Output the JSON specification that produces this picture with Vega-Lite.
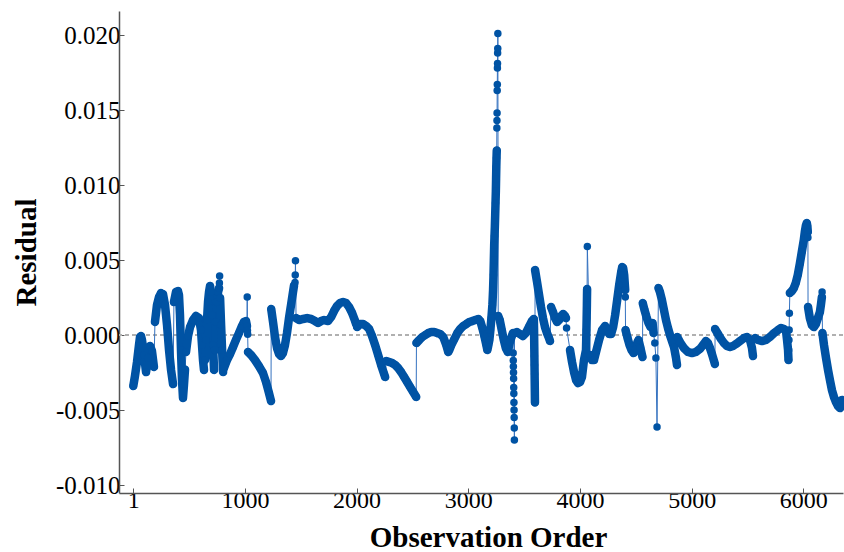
{
  "$schema": "https://vega.github.io/schema/vega-lite/v6.json",
  "width": 724,
  "height": 482,
  "autosize": {"type": "none"},
  "padding": {"left": 119, "top": 11, "right": 1, "bottom": 59},
  "background": "white",
  "config": {"view": {"stroke": null}},
  "data": {"values": [
    {"i":1,"r":-0.00340,"s":"A"},{"i":16,"r":-0.00273,"s":"A"},{"i":34,"r":-0.00180,"s":"A"},{"i":52,"r":-0.00067,"s":"A"},{"i":61,"r":-0.00013,"s":"A"},{"i":70,"r":-0.00007,"s":"A"},{"i":79,"r":-0.00033,"s":"A"},{"i":97,"r":-0.00133,"s":"A"},{"i":115,"r":-0.00247,"s":"A"},{"i":133,"r":-0.00153,"s":"A"},{"i":151,"r":-0.00073,"s":"A"},{"i":168,"r":-0.00107,"s":"A"},{"i":186,"r":-0.00213,"s":"A"},
    {"i":195,"r":0.00087,"s":"B"},{"i":213,"r":0.00200,"s":"B"},{"i":231,"r":0.00253,"s":"B"},{"i":249,"r":0.00280,"s":"B"},{"i":258,"r":0.00250,"s":"B"},{"i":267,"r":0.00273,"s":"B"},{"i":285,"r":0.00200,"s":"B"},{"i":303,"r":0.00067,"s":"B"},{"i":321,"r":-0.00100,"s":"B"},{"i":339,"r":-0.00233,"s":"B"},{"i":357,"r":-0.00327,"s":"B"},
    {"i":365,"r":0.00220,"s":"C"},{"i":383,"r":0.00287,"s":"C"},{"i":401,"r":0.00293,"s":"C"},{"i":410,"r":0.00267,"s":"C"},{"i":419,"r":0.00133,"s":"C"},{"i":428,"r":-0.00100,"s":"C"},{"i":437,"r":-0.00300,"s":"C"},{"i":446,"r":-0.00420,"s":"C"},{"i":455,"r":-0.00330,"s":"C"},{"i":464,"r":-0.00230,"s":"C"},
    {"i":473,"r":-0.00113,"s":"D"},{"i":491,"r":-0.00007,"s":"D"},{"i":509,"r":0.00053,"s":"D"},{"i":536,"r":0.00100,"s":"D"},{"i":562,"r":0.00127,"s":"D"},{"i":589,"r":0.00113,"s":"D"},{"i":607,"r":0.00033,"s":"D"},{"i":616,"r":-0.00067,"s":"D"},{"i":625,"r":-0.00167,"s":"D"},{"i":634,"r":-0.00233,"s":"D"},
    {"i":643,"r":-0.00167,"s":"E"},{"i":652,"r":-0.00033,"s":"E"},{"i":661,"r":0.00100,"s":"E"},{"i":670,"r":0.00220,"s":"E"},{"i":679,"r":0.00287,"s":"E"},{"i":688,"r":0.00327,"s":"E"},{"i":697,"r":0.00287,"s":"E"},{"i":706,"r":0.00133,"s":"E"},{"i":715,"r":-0.00067,"s":"E"},{"i":724,"r":-0.00233,"s":"E"},
    {"i":733,"r":-0.00100,"s":"F"},{"i":742,"r":0.00087,"s":"F"},{"i":751,"r":0.00220,"s":"F"},{"i":760,"r":0.00287,"s":"F"},{"i":769,"r":0.00313,"s":"F"},
    {"i":772,"r":0.00347},{"i":774,"r":0.00393},
    {"i":778,"r":0.00247,"s":"F2"},{"i":787,"r":0.00067,"s":"F2"},{"i":796,"r":-0.00100,"s":"F2"},{"i":805,"r":-0.00247,"s":"F2"},
    {"i":813,"r":-0.00220,"s":"G"},{"i":840,"r":-0.00167,"s":"G"},{"i":867,"r":-0.00127,"s":"G"},{"i":894,"r":-0.00080,"s":"G"},{"i":920,"r":-0.00033,"s":"G"},{"i":947,"r":0.00013,"s":"G"},{"i":974,"r":0.00060,"s":"G"},{"i":992,"r":0.00087,"s":"G"},{"i":1010,"r":0.00093,"s":"G"},{"i":1019,"r":0.00060,"s":"G"},
    {"i":1021,"r":0.00253},{"i":1023,"r":0.00030},{"i":1025,"r":0.00005},
    {"i":1028,"r":-0.00113,"s":"H"},{"i":1055,"r":-0.00133,"s":"H"},{"i":1091,"r":-0.00167,"s":"H"},{"i":1126,"r":-0.00207,"s":"H"},{"i":1162,"r":-0.00253,"s":"H"},{"i":1189,"r":-0.00313,"s":"H"},{"i":1216,"r":-0.00387,"s":"H"},{"i":1234,"r":-0.00440,"s":"H"},
    {"i":1236,"r":0.00173,"s":"I"},{"i":1252,"r":0.00087,"s":"I"},{"i":1270,"r":-0.00013,"s":"I"},{"i":1288,"r":-0.00087,"s":"I"},{"i":1306,"r":-0.00127,"s":"I"},{"i":1323,"r":-0.00140,"s":"I"},{"i":1341,"r":-0.00120,"s":"I"},{"i":1359,"r":-0.00067,"s":"I"},{"i":1377,"r":0.00013,"s":"I"},{"i":1395,"r":0.00113,"s":"I"},{"i":1413,"r":0.00200,"s":"I"},{"i":1431,"r":0.00287,"s":"I"},{"i":1440,"r":0.00330,"s":"I"},
    {"i":1449,"r":0.00350},{"i":1451,"r":0.00400},{"i":1453,"r":0.00495},
    {"i":1458,"r":0.00113,"s":"J"},{"i":1485,"r":0.00100,"s":"J"},{"i":1521,"r":0.00107,"s":"J"},{"i":1557,"r":0.00113,"s":"J"},{"i":1593,"r":0.00107,"s":"J"},{"i":1628,"r":0.00093,"s":"J"},{"i":1655,"r":0.00080,"s":"J"},{"i":1682,"r":0.00093,"s":"J"},{"i":1709,"r":0.00100,"s":"J"},{"i":1745,"r":0.00093,"s":"J"},{"i":1772,"r":0.00120,"s":"J"},{"i":1798,"r":0.00160,"s":"J"},{"i":1825,"r":0.00193,"s":"J"},{"i":1852,"r":0.00213,"s":"J"},{"i":1879,"r":0.00220,"s":"J"},{"i":1906,"r":0.00213,"s":"J"},{"i":1933,"r":0.00187,"s":"J"},{"i":1960,"r":0.00147,"s":"J"},{"i":1987,"r":0.00093,"s":"J"},{"i":1996,"r":0.00073,"s":"J"},
    {"i":2005,"r":0.00053,"s":"K"},{"i":2032,"r":0.00073,"s":"K"},{"i":2059,"r":0.00073,"s":"K"},{"i":2086,"r":0.00060,"s":"K"},{"i":2113,"r":0.00040,"s":"K"},{"i":2139,"r":-0.00007,"s":"K"},{"i":2166,"r":-0.00067,"s":"K"},{"i":2193,"r":-0.00133,"s":"K"},{"i":2220,"r":-0.00200,"s":"K"},{"i":2247,"r":-0.00260,"s":"K"},{"i":2256,"r":-0.00280,"s":"K"},
    {"i":2265,"r":-0.00173,"s":"L"},{"i":2292,"r":-0.00180,"s":"L"},{"i":2319,"r":-0.00187,"s":"L"},{"i":2346,"r":-0.00200,"s":"L"},{"i":2372,"r":-0.00220,"s":"L"},{"i":2399,"r":-0.00247,"s":"L"},{"i":2426,"r":-0.00280,"s":"L"},{"i":2453,"r":-0.00313,"s":"L"},{"i":2480,"r":-0.00347,"s":"L"},{"i":2507,"r":-0.00380,"s":"L"},{"i":2534,"r":-0.00413,"s":"L"},
    {"i":2536,"r":-0.00053,"s":"M"},{"i":2561,"r":-0.00033,"s":"M"},{"i":2588,"r":-0.00013,"s":"M"},{"i":2615,"r":0.00000,"s":"M"},{"i":2642,"r":0.00013,"s":"M"},{"i":2668,"r":0.00020,"s":"M"},{"i":2695,"r":0.00020,"s":"M"},{"i":2722,"r":0.00013,"s":"M"},{"i":2749,"r":0.00007,"s":"M"},{"i":2776,"r":-0.00013,"s":"M"},{"i":2803,"r":-0.00067,"s":"M"},{"i":2821,"r":-0.00113,"s":"M"},{"i":2830,"r":-0.00100,"s":"M"},{"i":2848,"r":-0.00067,"s":"M"},{"i":2875,"r":-0.00027,"s":"M"},{"i":2902,"r":0.00013,"s":"M"},{"i":2928,"r":0.00040,"s":"M"},{"i":2955,"r":0.00060,"s":"M"},{"i":2982,"r":0.00073,"s":"M"},{"i":3009,"r":0.00087,"s":"M"},{"i":3036,"r":0.00093,"s":"M"},{"i":3063,"r":0.00100,"s":"M"},{"i":3090,"r":0.00107,"s":"M"},{"i":3108,"r":0.00093,"s":"M"},{"i":3126,"r":0.00047,"s":"M"},{"i":3144,"r":-0.00007,"s":"M"},{"i":3162,"r":-0.00067,"s":"M"},{"i":3171,"r":-0.00100,"s":"M"},{"i":3180,"r":-0.00067,"s":"M"},{"i":3189,"r":-0.00033,"s":"M"},{"i":3198,"r":0.00033,"s":"M"},{"i":3207,"r":0.00113,"s":"M"},{"i":3216,"r":0.00200,"s":"M"},{"i":3222,"r":0.00300,"s":"M"},{"i":3226,"r":0.00400,"s":"M"},{"i":3229,"r":0.00500,"s":"M"},{"i":3232,"r":0.00600,"s":"M"},{"i":3235,"r":0.00660,"s":"M"},{"i":3238,"r":0.00720,"s":"M"},{"i":3241,"r":0.00800,"s":"M"},{"i":3244,"r":0.00880,"s":"M"},{"i":3247,"r":0.00960,"s":"M"},{"i":3249,"r":0.01040,"s":"M"},{"i":3251,"r":0.01120,"s":"M"},{"i":3253,"r":0.01180,"s":"M"},{"i":3255,"r":0.01230,"s":"M"},
    {"i":3256,"r":0.01380},{"i":3257,"r":0.01430},{"i":3258,"r":0.01480},{"i":3259,"r":0.01630},{"i":3260,"r":0.01670},{"i":3261,"r":0.01780},{"i":3262,"r":0.01810},{"i":3263,"r":0.01880},{"i":3264,"r":0.01910},{"i":3265,"r":0.02010},
    {"i":3268,"r":0.00127,"s":"P"},{"i":3282,"r":0.00100,"s":"P"},{"i":3300,"r":0.00033,"s":"P"},{"i":3318,"r":-0.00033,"s":"P"},{"i":3336,"r":-0.00087,"s":"P"},{"i":3354,"r":-0.00113,"s":"P"},{"i":3372,"r":-0.00047,"s":"P"},{"i":3390,"r":-0.00007,"s":"P"},{"i":3400,"r":0.00013,"s":"P"},
    {"i":3402,"r":-0.00120},{"i":3403,"r":-0.00170},{"i":3404,"r":-0.00210},{"i":3405,"r":-0.00250},{"i":3406,"r":-0.00290},{"i":3407,"r":-0.00350},{"i":3408,"r":-0.00390},{"i":3409,"r":-0.00450},{"i":3410,"r":-0.00500},{"i":3411,"r":-0.00550},{"i":3412,"r":-0.00620},{"i":3413,"r":-0.00700},
    {"i":3414,"r":0.00013,"s":"Q"},{"i":3435,"r":0.00020,"s":"Q"},{"i":3462,"r":0.00007,"s":"Q"},{"i":3489,"r":-0.00007,"s":"Q"},{"i":3515,"r":0.00013,"s":"Q"},{"i":3542,"r":0.00053,"s":"Q"},{"i":3569,"r":0.00093,"s":"Q"},{"i":3587,"r":0.00107,"s":"Q"},{"i":3589,"r":0.00040,"s":"Q"},{"i":3590,"r":-0.00020,"s":"Q"},{"i":3591,"r":-0.00080,"s":"Q"},{"i":3592,"r":-0.00140,"s":"Q"},{"i":3593,"r":-0.00200,"s":"Q"},{"i":3594,"r":-0.00260,"s":"Q"},{"i":3595,"r":-0.00320,"s":"Q"},{"i":3596,"r":-0.00380,"s":"Q"},{"i":3597,"r":-0.00450,"s":"Q"},
    {"i":3598,"r":0.00433,"s":"R"},{"i":3616,"r":0.00353,"s":"R"},{"i":3634,"r":0.00267,"s":"R"},{"i":3651,"r":0.00187,"s":"R"},{"i":3669,"r":0.00113,"s":"R"},{"i":3687,"r":0.00053,"s":"R"},{"i":3705,"r":0.00013,"s":"R"},{"i":3723,"r":-0.00020,"s":"R"},{"i":3732,"r":-0.00040,"s":"R"},
    {"i":3741,"r":0.00187,"s":"S"},{"i":3759,"r":0.00153,"s":"S"},{"i":3777,"r":0.00113,"s":"S"},{"i":3795,"r":0.00087,"s":"S"},{"i":3813,"r":0.00100,"s":"S"},{"i":3831,"r":0.00127,"s":"S"},{"i":3849,"r":0.00140,"s":"S"},{"i":3866,"r":0.00127,"s":"S"},{"i":3875,"r":0.00113,"s":"S"},
    {"i":3880,"r":0.00047},
    {"i":3911,"r":-0.00100,"s":"T"},{"i":3929,"r":-0.00180,"s":"T"},{"i":3947,"r":-0.00247,"s":"T"},{"i":3965,"r":-0.00300,"s":"T"},{"i":3983,"r":-0.00320,"s":"T"},{"i":4001,"r":-0.00313,"s":"T"},{"i":4018,"r":-0.00280,"s":"T"},{"i":4036,"r":-0.00167,"s":"T"},{"i":4054,"r":-0.00100,"s":"T"},{"i":4056,"r":-0.00033,"s":"T"},{"i":4058,"r":0.00033,"s":"T"},{"i":4060,"r":0.00113,"s":"T"},{"i":4062,"r":0.00200,"s":"T"},{"i":4063,"r":0.00260,"s":"T"},{"i":4064,"r":0.00307,"s":"T"},
    {"i":4066,"r":0.00590},
    {"i":4090,"r":-0.00133,"s":"U"},{"i":4108,"r":-0.00167,"s":"U"},{"i":4126,"r":-0.00167,"s":"U"},{"i":4144,"r":-0.00113,"s":"U"},{"i":4171,"r":-0.00033,"s":"U"},{"i":4198,"r":0.00033,"s":"U"},{"i":4225,"r":0.00060,"s":"U"},{"i":4243,"r":0.00040,"s":"U"},{"i":4261,"r":0.00007,"s":"U"},{"i":4279,"r":0.00007,"s":"U"},{"i":4297,"r":0.00053,"s":"U"},{"i":4315,"r":0.00133,"s":"U"},{"i":4333,"r":0.00233,"s":"U"},{"i":4351,"r":0.00333,"s":"U"},{"i":4369,"r":0.00420,"s":"U"},{"i":4378,"r":0.00453,"s":"U"},{"i":4387,"r":0.00447,"s":"U"},{"i":4396,"r":0.00400,"s":"U"},{"i":4405,"r":0.00300,"s":"U"},
    {"i":4406,"r":0.00253},
    {"i":4408,"r":0.00033,"s":"V"},{"i":4426,"r":-0.00020,"s":"V"},{"i":4444,"r":-0.00067,"s":"V"},{"i":4462,"r":-0.00100,"s":"V"},{"i":4480,"r":-0.00120,"s":"V"},{"i":4498,"r":-0.00093,"s":"V"},{"i":4515,"r":-0.00047,"s":"V"},{"i":4524,"r":-0.00033,"s":"V"},{"i":4542,"r":-0.00087,"s":"V"},{"i":4560,"r":-0.00147,"s":"V"},
    {"i":4562,"r":0.00213,"s":"W"},{"i":4578,"r":0.00167,"s":"W"},{"i":4596,"r":0.00120,"s":"W"},{"i":4614,"r":0.00080,"s":"W"},{"i":4632,"r":0.00053,"s":"W"},{"i":4650,"r":0.00080,"s":"W"},{"i":4659,"r":0.00013,"s":"W"},
    {"i":4670,"r":-0.00053},{"i":4680,"r":-0.00153},{"i":4690,"r":-0.00613},
    {"i":4703,"r":0.00313,"s":"X"},{"i":4716,"r":0.00287,"s":"X"},{"i":4734,"r":0.00233,"s":"X"},{"i":4752,"r":0.00167,"s":"X"},{"i":4770,"r":0.00100,"s":"X"},{"i":4788,"r":0.00047,"s":"X"},{"i":4806,"r":0.00000,"s":"X"},{"i":4824,"r":-0.00040,"s":"X"},{"i":4842,"r":-0.00080,"s":"X"},{"i":4860,"r":-0.00153,"s":"X"},{"i":4869,"r":-0.00200,"s":"X"},
    {"i":4871,"r":-0.00013,"s":"Y"},{"i":4895,"r":-0.00047,"s":"Y"},{"i":4931,"r":-0.00087,"s":"Y"},{"i":4967,"r":-0.00113,"s":"Y"},{"i":5003,"r":-0.00120,"s":"Y"},{"i":5039,"r":-0.00113,"s":"Y"},{"i":5074,"r":-0.00093,"s":"Y"},{"i":5101,"r":-0.00067,"s":"Y"},{"i":5128,"r":-0.00040,"s":"Y"},{"i":5146,"r":-0.00053,"s":"Y"},{"i":5164,"r":-0.00087,"s":"Y"},{"i":5182,"r":-0.00127,"s":"Y"},{"i":5208,"r":-0.00193,"s":"Y"},
    {"i":5210,"r":0.00040,"s":"Z"},{"i":5236,"r":0.00007,"s":"Z"},{"i":5263,"r":-0.00027,"s":"Z"},{"i":5289,"r":-0.00053,"s":"Z"},{"i":5316,"r":-0.00073,"s":"Z"},{"i":5343,"r":-0.00080,"s":"Z"},{"i":5370,"r":-0.00073,"s":"Z"},{"i":5397,"r":-0.00060,"s":"Z"},{"i":5432,"r":-0.00040,"s":"Z"},{"i":5468,"r":-0.00020,"s":"Z"},{"i":5495,"r":-0.00013,"s":"Z"},{"i":5522,"r":-0.00033,"s":"Z"},{"i":5540,"r":-0.00087,"s":"Z"},{"i":5549,"r":-0.00140,"s":"Z"},
    {"i":5567,"r":-0.00020,"s":"AA"},{"i":5594,"r":-0.00033,"s":"AA"},{"i":5630,"r":-0.00040,"s":"AA"},{"i":5666,"r":-0.00033,"s":"AA"},{"i":5701,"r":-0.00013,"s":"AA"},{"i":5737,"r":0.00013,"s":"AA"},{"i":5773,"r":0.00033,"s":"AA"},{"i":5800,"r":0.00047,"s":"AA"},{"i":5827,"r":0.00040,"s":"AA"},{"i":5845,"r":0.00027,"s":"AA"},{"i":5854,"r":-0.00033,"s":"AA"},{"i":5863,"r":-0.00100,"s":"AA"},{"i":5867,"r":-0.00167,"s":"AA"},
    {"i":5869,"r":-0.00100},{"i":5871,"r":-0.00033},{"i":5873,"r":0.00033},{"i":5875,"r":0.00145},
    {"i":5879,"r":0.00280,"s":"BB"},{"i":5897,"r":0.00293,"s":"BB"},{"i":5915,"r":0.00313,"s":"BB"},{"i":5932,"r":0.00347,"s":"BB"},{"i":5950,"r":0.00400,"s":"BB"},{"i":5968,"r":0.00473,"s":"BB"},{"i":5986,"r":0.00553,"s":"BB"},{"i":6004,"r":0.00633,"s":"BB"},{"i":6013,"r":0.00687,"s":"BB"},{"i":6022,"r":0.00727,"s":"BB"},{"i":6031,"r":0.00747,"s":"BB"},{"i":6036,"r":0.00727,"s":"BB"},{"i":6040,"r":0.00687,"s":"BB"},
    {"i":6041,"r":0.00650},
    {"i":6042,"r":0.00187,"s":"CC"},{"i":6058,"r":0.00113,"s":"CC"},{"i":6076,"r":0.00067,"s":"CC"},{"i":6094,"r":0.00053,"s":"CC"},{"i":6112,"r":0.00073,"s":"CC"},{"i":6130,"r":0.00113,"s":"CC"},{"i":6148,"r":0.00153,"s":"CC"},{"i":6157,"r":0.00200,"s":"CC"},{"i":6166,"r":0.00253,"s":"CC"},
    {"i":6168,"r":0.00287},
    {"i":6171,"r":0.00013,"s":"DD"},{"i":6185,"r":-0.00067,"s":"DD"},{"i":6203,"r":-0.00153,"s":"DD"},{"i":6221,"r":-0.00233,"s":"DD"},{"i":6238,"r":-0.00300,"s":"DD"},{"i":6256,"r":-0.00367,"s":"DD"},{"i":6274,"r":-0.00413,"s":"DD"},{"i":6292,"r":-0.00447,"s":"DD"},{"i":6310,"r":-0.00473,"s":"DD"},{"i":6328,"r":-0.00487,"s":"DD"},{"i":6337,"r":-0.00460,"s":"DD"},{"i":6346,"r":-0.00433,"s":"DD"}
  ]},
  "encoding": {
    "x": {
      "field": "i", "type": "quantitative",
      "scale": {"domain": [-127, 6355], "nice": false, "zero": false},
      "axis": {
        "values": [1, 1000, 2000, 3000, 4000, 5000, 6000],
        "format": "d",
        "grid": false,
        "domainColor": "#555555", "domainWidth": 1.5,
        "tickColor": "#555555", "tickWidth": 1, "tickSize": -5,
        "labelFont": "Liberation Serif", "labelFontSize": 24, "labelColor": "#000000",
        "labelBaseline": "alphabetic", "labelPadding": 19,
        "title": "Observation Order",
        "titleFont": "Liberation Serif", "titleFontSize": 29, "titleFontWeight": "bold", "titleColor": "#000000",
        "titleX": 369, "titleY": 53, "titleBaseline": "alphabetic"
      }
    },
    "y": {
      "field": "r", "type": "quantitative",
      "scale": {"domain": [-0.01053, 0.0216], "nice": false, "zero": false},
      "axis": {
        "values": [-0.01, -0.005, 0, 0.005, 0.01, 0.015, 0.02],
        "format": ".3f",
        "labelExpr": "replace(datum.label, '\u2212', '-')",
        "grid": false,
        "domainColor": "#555555", "domainWidth": 1.5,
        "tickColor": "#555555", "tickWidth": 1, "tickSize": -5,
        "labelFont": "Liberation Serif", "labelFontSize": 25, "labelColor": "#000000",
        "labelBaseline": "middle", "labelPadding": 4,
        "title": "Residual",
        "titleFont": "Liberation Serif", "titleFontSize": 29, "titleFontWeight": "bold", "titleColor": "#000000",
        "titleX": -84, "titleY": 241, "titleBaseline": "alphabetic", "titleAngle": -90
      }
    }
  },
  "layer": [
    {
      "mark": {"type": "rule", "color": "#b0b0b0", "strokeWidth": 1, "strokeDash": [4, 3]},
      "encoding": {"y": {"datum": 0}, "x": null}
    },
    {
      "mark": {"type": "line", "color": "#3572c0", "strokeWidth": 1},
      "encoding": {"order": {"field": "i", "type": "quantitative"}}
    },
    {
      "transform": [{"filter": "datum.s != null"}],
      "mark": {"type": "line", "color": "#0053a4", "strokeWidth": 8.5, "strokeCap": "round", "strokeJoin": "round"},
      "encoding": {"detail": {"field": "s", "type": "nominal"}, "order": {"field": "i", "type": "quantitative"}}
    },
    {
      "mark": {"type": "point", "filled": true, "color": "#0053a4", "size": 56, "opacity": 1}
    }
  ]
}
